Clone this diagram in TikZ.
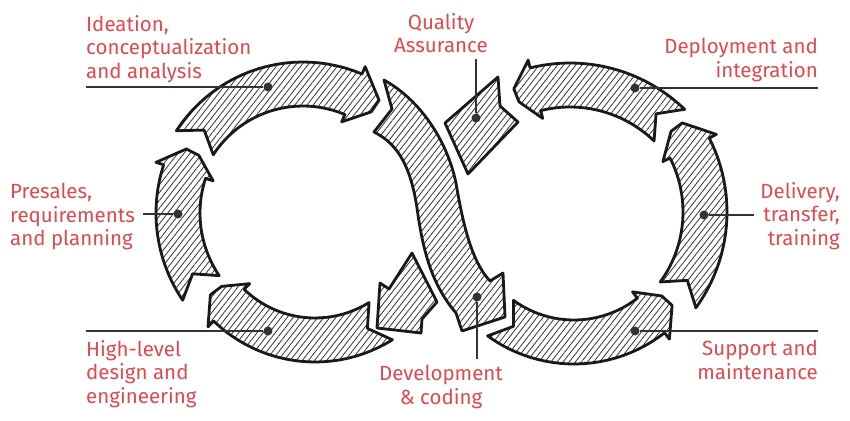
\documentclass[tikz,border=0pt]{standalone}
\usepackage{fontspec}
\setmainfont{Fira Sans}
\usepackage{tikz}
\usetikzlibrary{calc,patterns.meta}

\definecolor{labelred}{RGB}{224,73,77}
\definecolor{leadergray}{RGB}{51,51,51}

% hatched arrow on a circle: centre x, centre y, radius, tail, barb, tip (angles)
\newcommand{\loopArrow}[6]{%
  \pgfmathsetmacro\arrowturn{sign((#5)-(#4))}
  \draw[hatchband]
    plot[domain=#4:#5] ({#1+(#3+22)*cos(\x)},{#2+(#3+22)*sin(\x)})
    -- ({#1+(#3+30)*cos(#5)},{#2+(#3+30)*sin(#5)})
    -- ({#1+(#3+7)*cos(#6)},{#2+(#3+7)*sin(#6)})
    -- ({#1+(#3-7)*cos(#6)},{#2+(#3-7)*sin(#6)})
    -- ({#1+(#3-30)*cos(#5)},{#2+(#3-30)*sin(#5)})
    -- plot[domain=#5:#4] ({#1+(#3-22)*cos(\x)},{#2+(#3-22)*sin(\x)})
    -- ({#1+#3*cos(#4+7*\arrowturn)},{#2+#3*sin(#4+7*\arrowturn)})
    -- cycle;
}

\begin{document}
\begin{tikzpicture}[x=1pt, y=-1pt,
    hatchband/.style={line width=2.8pt, draw=black!90, line join=round,
      pattern={Lines[angle=52,distance=4.8pt,line width=0.8pt]}, pattern color=black!80},
    tag/.style={text=labelred, font=\fontsize{20.5}{23.5}\selectfont, inner sep=0pt},
    dot/.style={circle, fill=leadergray, inner sep=0pt, minimum size=9pt},
    leaderline/.style={draw=leadergray, line width=1.2pt}]
    \useasboundingbox (0,0) rectangle (850,420);
    \fill[white] (0,0) rectangle (850,420);

    % left loop
    \loopArrow{303}{213}{129}{213}{293}{304} % ideation
    \loopArrow{312}{213}{134}{146}{198}{207} % presales
    \loopArrow{315}{216}{124}{58}{134}{143}  % high-level design
    % right loop
    \loopArrow{574}{217}{125}{126}{52}{42}   % support
    \loopArrow{564}{212}{141}{36}{-27}{-37}  % delivery
    \loopArrow{570}{228}{143}{-46}{-104}{-112} % deployment

    % crossing in the middle
    \draw[hatchband] (445,123) -- (498,77) -- (500,106) -- (518,122) -- (468,174) -- cycle;
    \draw[hatchband] (412,253) -- (437,302) -- (422,319) -- (421,333) -- (377,328)
      -- (380,283) -- (389,289) -- cycle;
    \draw[hatchband] (384,80) .. controls (420,100) and (447,140) .. (456,183)
      .. controls (463,225) and (472,262) .. (490,281)
      -- (503,273) -- (505,317) -- (462,331) -- (456,313)
      .. controls (433,286) and (424,255) .. (418,215)
      .. controls (412,170) and (400,145) .. (374,132)
      -- (392,109) -- cycle;

    % labels
    \node[tag, align=left, anchor=north west] (idea) at (86,15) {Ideation,\\conceptualization\\and analysis};
    \node[tag, align=center, anchor=north] (qa) at (441,13) {Quality\\Assurance};
    \node[tag, align=right, anchor=north east] (deploy) at (818,38) {Deployment and\\integration};
    \node[tag, align=left, anchor=north west] (presales) at (10,183) {Presales,\\requirements\\and planning};
    \node[tag, align=right, anchor=north east] (delivery) at (840,182) {Delivery,\\transfer,\\training};
    \node[tag, align=left, anchor=north west] (design) at (86,340) {High-level\\design and\\engineering};
    \node[tag, align=center, anchor=north] (dev) at (441,365) {Development\\\& coding};
    \node[tag, align=right, anchor=north east] (support) at (818,340) {Support and\\maintenance};

    % dots on the arrows
    \node[dot] (ideaDot) at (268,87) {};
    \node[dot] (qaDot) at (476,118) {};
    \node[dot] (deployDot) at (635,88) {};
    \node[dot] (presalesDot) at (178,214) {};
    \node[dot] (deliveryDot) at (704,215) {};
    \node[dot] (designDot) at (268,331) {};
    \node[dot] (devDot) at (477,297) {};
    \node[dot] (supportDot) at (635,331) {};

    \coordinate (qaFoot) at ([yshift=-6pt]qa.south);
    \coordinate (devHead) at ([yshift=6pt]dev.north);
    \coordinate (presalesEnd) at ([xshift=8pt]presales.east);
    \coordinate (deliveryEnd) at ([xshift=-6pt]delivery.west);

    \draw[leaderline] (ideaDot -| idea.west) -- (ideaDot);
    \draw[leaderline] (qaFoot -| qaDot) -- (qaDot);
    \draw[leaderline] (deployDot -| deploy.east) -- (deployDot);
    \draw[leaderline] (presalesEnd |- presalesDot) -- (presalesDot);
    \draw[leaderline] (deliveryEnd |- deliveryDot) -- (deliveryDot);
    \draw[leaderline] (designDot -| design.west) -- (designDot);
    \draw[leaderline] (devHead -| devDot) -- (devDot);
    \draw[leaderline] (supportDot -| support.east) -- (supportDot);
\end{tikzpicture}
\end{document}
